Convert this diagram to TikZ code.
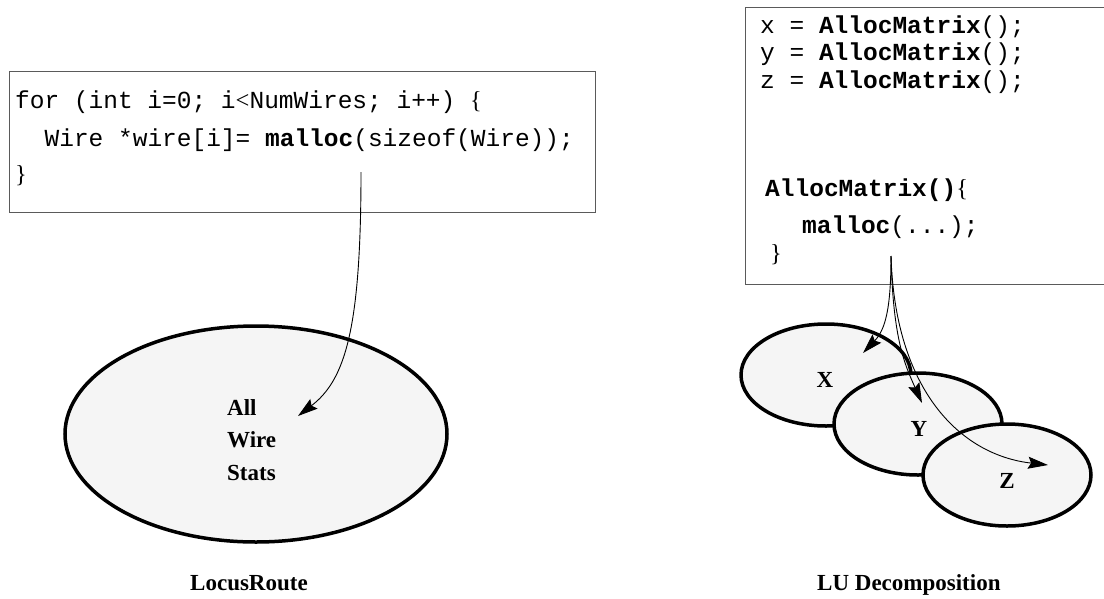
\documentclass[tikz,border=0pt]{standalone}
\usepackage{fontspec}
\setmainfont{Liberation Serif}
\setmonofont{Liberation Mono}
\usetikzlibrary{arrows.meta,shapes.geometric}
\definecolor{blobfill}{HTML}{F5F5F5}
\definecolor{framegray}{HTML}{5A5A5A}
\begin{document}
\begin{tikzpicture}[x=1pt,y=-1pt,
  codebox/.style={draw=framegray, line width=1pt, inner sep=0pt},
  code/.style={font=\fontsize{24.5}{28}\selectfont\ttfamily, inner sep=0pt, anchor=base west},
  blob/.style={draw, ellipse, line width=3.5pt, fill=blobfill, inner sep=0pt},
  lbl/.style={font=\fontsize{23}{28}\selectfont\bfseries, inner sep=0pt},
  link/.style={line width=0.9pt, -{Stealth[length=20pt,width=12pt,inset=3pt]}},
]
\useasboundingbox (0,0) rectangle (1104,598);

% ---- LocusRoute ----
\node[codebox, minimum width=586pt, minimum height=141pt, anchor=north west] (lbox) at (9,71) {};
\node[code] (l1) at (15,108) {for (int i=0; i{\rmfamily<}NumWires; i++) {\rmfamily\{}};
\node[code] (l2) at (44.4,146) {Wire *wire[i]= \textbf{malloc}(sizeof(Wire));};
\node[code] (l3) at (15,182) {{\rmfamily\}}};

\node[blob, minimum width=382pt, minimum height=216pt] (stats) at (256,434) {};
\node[lbl, anchor=base west] (s1) at (227,415) {All};
\node[lbl, anchor=base west] (s2) at (227,447) {Wire};
\node[lbl, anchor=base west] (s3) at (227,480) {Stats};

\coordinate (lsrc) at (361,172);
\coordinate (ltip) at (298,416);
\draw[link] (lsrc) .. controls (361,330) and (345,380) .. (ltip);

\node[lbl, anchor=base west] (cap1) at (190,590) {LocusRoute};

% ---- LU Decomposition ----
\node[codebox, minimum width=365pt, minimum height=277pt, anchor=north west] (rbox) at (745,7) {};
\node[code] (r1) at (760,33) {x = \textbf{AllocMatrix}();};
\node[code] (r2) at (760,60) {y = \textbf{AllocMatrix}();};
\node[code] (r3) at (760,88) {z = \textbf{AllocMatrix}();};
\node[code] (r4) at (765,196) {\textbf{AllocMatrix()}{\rmfamily\{}};
\node[code] (r5) at (802,233) {\textbf{malloc}(...);};
\node[code] (r6) at (770,261) {{\rmfamily\}}};

\node[blob, minimum width=170pt, minimum height=102pt] (mx) at (826,375) {};
\node[blob, minimum width=168pt, minimum height=102pt] (my) at (918,424) {};
\node[blob, minimum width=168pt, minimum height=102pt] (mz) at (1007,475) {};
\node[lbl, anchor=base] (tx) at (825,387) {X};
\node[lbl, anchor=base] (ty) at (919,436) {Y};
\node[lbl, anchor=base] (tz) at (1007,488) {Z};

\coordinate (rsrc) at (891,256);
\coordinate (xtip) at (863,353);
\coordinate (ytip) at (922,403);
\coordinate (ztip) at (1048,465);
\draw[link] (rsrc) .. controls (891,310) and (885,330) .. (xtip);
\draw[link] (rsrc) .. controls (893,340) and (905,365) .. (ytip);
\draw[link] (rsrc) .. controls (895,390) and (960,455) .. (ztip);

\node[lbl, anchor=base west] (cap2) at (817,590) {LU Decomposition};
\end{tikzpicture}
\end{document}
